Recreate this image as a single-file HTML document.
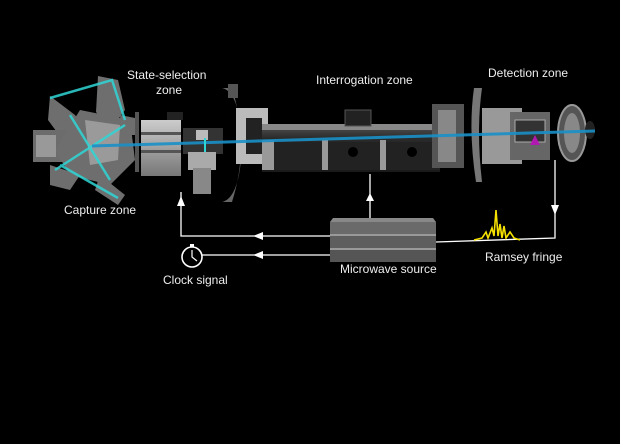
<!DOCTYPE html>
<html><head><meta charset="utf-8"><style>
html,body{margin:0;padding:0;background:#000;}
svg{display:block}
text{font-family:"Liberation Sans",sans-serif;font-size:12px;fill:#eee}
</style></head><body>
<svg width="620" height="444" viewBox="0 0 620 444">
<defs>
<linearGradient id="g1" x1="0" y1="0" x2="0" y2="1"><stop offset="0" stop-color="#ccc"/><stop offset="1" stop-color="#777"/></linearGradient>
<linearGradient id="tube" x1="0" y1="0" x2="0" y2="1"><stop offset="0" stop-color="#555"/><stop offset="0.3" stop-color="#2a2a2a"/><stop offset="1" stop-color="#1a1a1a"/></linearGradient>
</defs>
<rect width="620" height="444" fill="#000"/>
<!-- capture zone cluster -->
<g fill="#8a8a8a" opacity="0.8">
<polygon points="98,76 118,80 125,110 110,130 96,112"/>
<polygon points="50,96 75,115 90,135 70,150 48,120"/>
<rect x="33" y="130" width="55" height="32" fill="#888"/>
<polygon points="80,110 130,120 135,160 110,185 70,175 55,150"/>
<polygon points="50,165 80,175 70,190 50,185"/>
<polygon points="100,175 125,195 118,205 95,190"/>
<polygon points="120,115 135,118 136,135 122,135"/>
</g>
<g fill="#ddd" opacity="0.4">
<rect x="36" y="135" width="20" height="22"/>
<polygon points="85,120 120,125 118,160 90,165"/>
</g>
<g stroke="#2fd6d6" stroke-width="2.5" fill="none" opacity="0.85">
<polyline points="50,98 112,80 125,120"/>
<line x1="55" y1="170" x2="125" y2="125"/>
<line x1="70" y1="115" x2="110" y2="180"/>
<line x1="60" y1="165" x2="118" y2="198"/>
</g>
<!-- state selection block -->
<rect x="135" y="112" width="4" height="60" fill="#555"/>
<rect x="141" y="120" width="40" height="56" fill="url(#g1)"/>
<rect x="141" y="132" width="40" height="3" fill="#555"/>
<rect x="141" y="150" width="40" height="3" fill="#555"/>
<rect x="167" y="112" width="16" height="8" fill="#222"/>
<!-- small mechanism -->
<rect x="183" y="128" width="40" height="26" fill="#333"/>
<rect x="188" y="152" width="28" height="18" fill="#aaa"/>
<rect x="193" y="168" width="18" height="26" fill="#888"/>
<rect x="196" y="130" width="12" height="10" fill="#bbb"/>
<!-- disk -->
<path d="M222,88 Q240,92 242,145 Q240,198 222,202 L232,202 Q250,145 232,88 Z" fill="#666"/>
<rect x="228" y="84" width="10" height="14" fill="#555"/>
<rect x="236" y="108" width="32" height="56" fill="#bbb"/>
<rect x="246" y="118" width="16" height="36" fill="#222"/>
<!-- interrogation tube -->
<rect x="262" y="124" width="178" height="48" fill="url(#tube)"/>
<rect x="262" y="124" width="178" height="6" fill="#888"/>
<rect x="262" y="142" width="178" height="28" fill="#222"/>
<rect x="262" y="140" width="12" height="30" fill="#999"/>
<rect x="322" y="140" width="6" height="30" fill="#999"/>
<rect x="380" y="140" width="6" height="30" fill="#999"/>
<rect x="345" y="110" width="26" height="16" fill="#222" stroke="#555"/>
<circle cx="353" cy="152" r="5" fill="#000"/>
<circle cx="412" cy="152" r="5" fill="#000"/>
<!-- detection -->
<rect x="432" y="104" width="32" height="64" fill="#555"/>
<rect x="438" y="110" width="18" height="52" fill="#888"/>
<path d="M474,88 Q468,130 476,182 L482,182 Q476,130 482,88 Z" fill="#777"/>
<rect x="482" y="108" width="40" height="56" fill="#999"/>
<rect x="510" y="112" width="40" height="48" fill="#666"/>
<rect x="515" y="120" width="30" height="22" fill="#333" stroke="#aaa"/>
<polygon points="530,145 535,135 540,145" fill="#b018b0"/>
<ellipse cx="572" cy="133" rx="14" ry="28" fill="#555" stroke="#999" stroke-width="2"/>
<ellipse cx="572" cy="133" rx="8" ry="20" fill="#888"/>
<ellipse cx="590" cy="130" rx="5" ry="9" fill="#222"/>
<!-- beam -->
<line x1="92" y1="146" x2="595" y2="131" stroke="#1a90c8" stroke-width="3" opacity="0.9"/>
<line x1="205" y1="138" x2="205" y2="152" stroke="#2fd6d6" stroke-width="2"/>
<!-- connectors -->
<g stroke="#fff" stroke-width="1.3" fill="none">
<polyline points="181,192 181,236 330,236"/>
<line x1="202" y1="255" x2="330" y2="255"/>
<line x1="370" y1="174" x2="370" y2="222"/>
<polyline points="436,242 555,238 555,160"/>
</g>
<g fill="#fff">
<polygon points="181,196 177,206 185,206"/>
<polygon points="253,236 263,232 263,240"/>
<polygon points="253,255 263,251 263,259"/>
<polygon points="370,193 366,201 374,201"/>
<polygon points="555,215 551,205 559,205"/>
</g>
<!-- clock -->
<circle cx="192" cy="257" r="10" fill="none" stroke="#fff" stroke-width="1.6"/>
<rect x="190" y="244" width="4" height="3" fill="#fff"/>
<polyline points="192,250 192,257 197,261" stroke="#fff" stroke-width="1.2" fill="none"/>
<!-- microwave source -->
<polygon points="330,222 333,218 433,218 436,222" fill="#888"/>
<rect x="330" y="222" width="106" height="12" fill="#6a6a6a"/>
<rect x="330" y="236" width="106" height="12" fill="#5e5e5e"/>
<rect x="330" y="250" width="106" height="12" fill="#555"/>
<rect x="330" y="234" width="106" height="2" fill="#999"/>
<rect x="330" y="248" width="106" height="2" fill="#999"/>
<!-- ramsey fringe -->
<path d="M474,240 L482,238 L486,232 L488,238 L492,228 L494,236 L496,210 L498,236 L500,224 L502,238 L504,226 L506,238 L510,232 L514,238 L520,240" stroke="#f5e000" stroke-width="1.6" fill="none"/>
<!-- labels -->
<text x="127" y="79">State-selection</text>
<text x="156" y="94">zone</text>
<text x="64" y="214">Capture zone</text>
<text x="316" y="84">Interrogation zone</text>
<text x="488" y="77">Detection zone</text>
<text x="340" y="273">Microwave source</text>
<text x="485" y="261">Ramsey fringe</text>
<text x="163" y="284">Clock signal</text>
</svg>
</body></html>
